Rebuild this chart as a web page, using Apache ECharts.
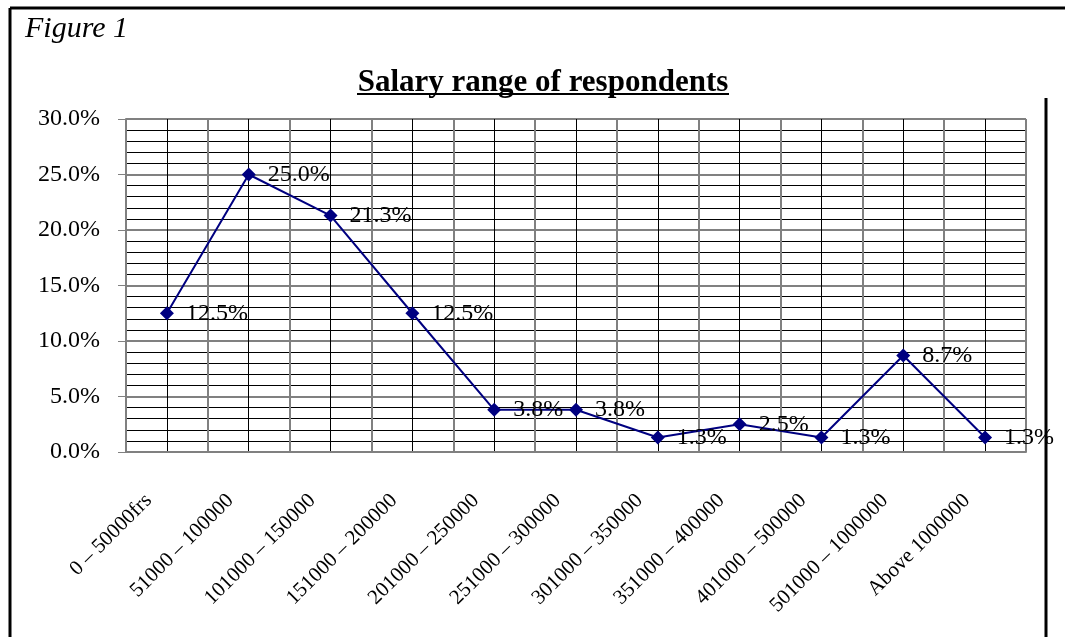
<!DOCTYPE html>
<html>
<head>
    <meta charset="utf-8">
    <script src="https://cdn.jsdelivr.net/npm/echarts@6/dist/echarts.min.js"></script>
    <style>
        body { margin: 0; background: #fff; }
    </style>
</head>
<body>
<div id="main" style="width: 1065px;height:637px;"></div>
<script type="text/javascript">
    // salary ranges and share of respondents (fractions)
    var categories = ['0 – 50000frs', '51000 – 100000', '101000 – 150000', '151000 – 200000',
        '201000 – 250000', '251000 – 300000', '301000 – 350000', '351000 – 400000',
        '401000 – 500000', '501000 – 1000000', 'Above 1000000'];
    var shares = [0.125, 0.250, 0.213, 0.125, 0.038, 0.038, 0.013, 0.025, 0.013, 0.087, 0.013];

    var serif = '"Liberation Serif", "Times New Roman", serif';
    var pct = function (v) { return (v * 100).toFixed(1) + '%'; };

    var myChart = echarts.init(document.getElementById('main'));

    var option = {
        animation: false,
        backgroundColor: '#fff',
        graphic: [
            // frame around the figure
            {type: 'line', shape: {x1: 10, y1: 8, x2: 1065, y2: 8}, style: {stroke: '#000', lineWidth: 3}},
            {type: 'line', shape: {x1: 10, y1: 8, x2: 10, y2: 637}, style: {stroke: '#000', lineWidth: 3}},
            {type: 'line', shape: {x1: 1046, y1: 98, x2: 1046, y2: 637}, style: {stroke: '#000', lineWidth: 3}},
            {type: 'text', x: 25, y: 44, style: {text: 'Figure 1', font: 'italic 30px ' + serif, fill: '#000', verticalAlign: 'bottom'}},
            {type: 'text', x: 543, y: 98, style: {text: 'Salary range of respondents', font: 'bold 31px ' + serif, fill: '#000', align: 'center', verticalAlign: 'bottom'}},
            {type: 'line', shape: {x1: 357, y1: 94, x2: 729, y2: 94}, style: {stroke: '#000', lineWidth: 2}}
        ],
        grid: {left: 126, right: 39, top: 119, bottom: 185},
        xAxis: [{
            type: 'category',
            data: categories,
            boundaryGap: true,
            axisLine: {lineStyle: {color: '#808080', width: 2}},
            axisTick: {length: 7, lineStyle: {color: '#808080', width: 2}},
            splitLine: {show: true, lineStyle: {color: '#808080', width: 2}},
            axisLabel: {
                interval: 0, rotate: 45, margin: 27, padding: [0, 26, 0, 0],
                color: '#000', fontFamily: serif, fontSize: 21
            }
        }, {
            // helper axis: black gridlines through the category centres
            type: 'value', min: 0, max: 11, interval: 1,
            axisLine: {show: false}, axisTick: {show: false}, axisLabel: {show: false},
            splitLine: {show: false},
            minorTick: {show: false, splitNumber: 2},
            minorSplitLine: {show: true, lineStyle: {color: '#000', width: 1}}
        }],
        yAxis: {
            type: 'value',
            min: 0, max: 0.30, interval: 0.05,
            axisLine: {show: true, lineStyle: {color: '#808080', width: 2}},
            axisTick: {show: true, length: 8, lineStyle: {color: '#808080', width: 1}},
            axisLabel: {formatter: pct, color: '#000', fontFamily: serif, fontSize: 24, margin: 26},
            splitLine: {show: true, lineStyle: {color: '#808080', width: 2}},
            minorTick: {show: false, splitNumber: 5},
            minorSplitLine: {show: true, lineStyle: {color: '#000', width: 1}}
        },
        series: [{
            type: 'line',
            xAxisIndex: 0,
            data: shares,
            symbol: 'diamond',
            symbolSize: 14,
            itemStyle: {color: '#000080'},
            lineStyle: {color: '#000080', width: 2},
            label: {
                show: true, position: 'right', distance: 12,
                formatter: function (p) { return pct(p.value); },
                color: '#000', fontFamily: serif, fontSize: 24
            }
        }]
    };

    myChart.setOption(option);
</script>
</body>
</html>
